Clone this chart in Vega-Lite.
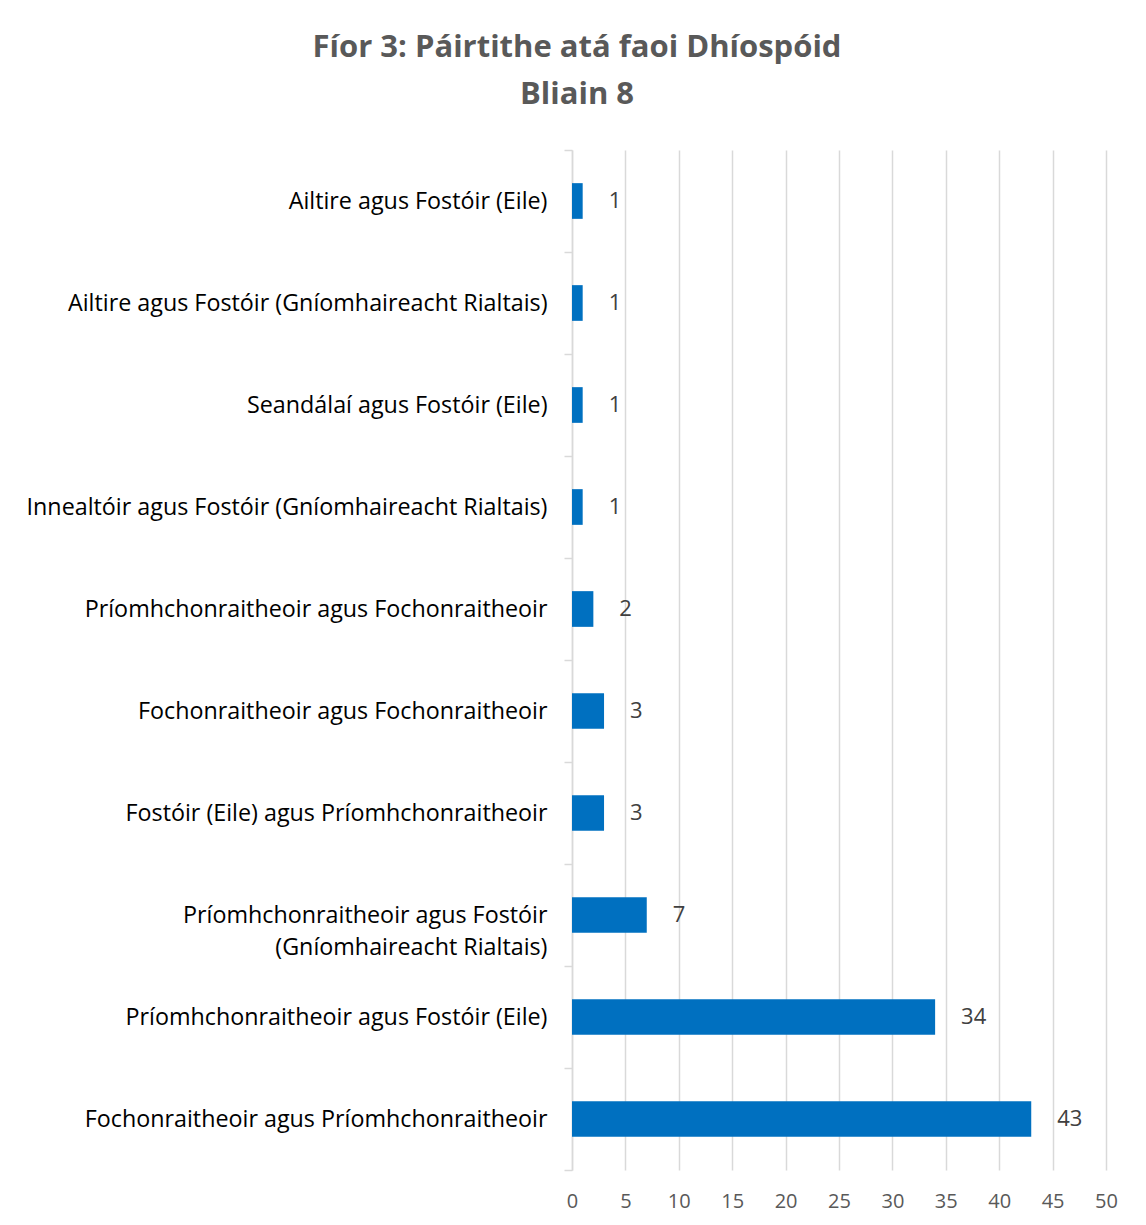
{
  "$schema": "https://vega.github.io/schema/vega-lite/v6.json",
  "autosize": {"type": "none"},
  "padding": {"left": 572, "top": 150, "right": 40, "bottom": 55},
  "width": 534,
  "height": 1020,
  "background": "white",
  "config": {
    "font": "Open Sans",
    "view": {"stroke": null}
  },
  "title": {
    "text": ["Fíor 3: Páirtithe atá faoi Dhíospóid", "Bliain 8"],
    "fontSize": 31,
    "fontWeight": "bold",
    "color": "#595959",
    "anchor": "middle",
    "dx": -262,
    "offset": 27,
    "lineHeight": 47,
    "font": "Open Sans"
  },
  "data": {
    "values": [
      {"parties": "Ailtire agus Fostóir (Eile)", "count": 1},
      {"parties": "Ailtire agus Fostóir (Gníomhaireacht Rialtais)", "count": 1},
      {"parties": "Seandálaí agus Fostóir (Eile)", "count": 1},
      {"parties": "Innealtóir agus Fostóir (Gníomhaireacht Rialtais)", "count": 1},
      {"parties": "Príomhchonraitheoir agus Fochonraitheoir", "count": 2},
      {"parties": "Fochonraitheoir agus Fochonraitheoir", "count": 3},
      {"parties": "Fostóir (Eile) agus Príomhchonraitheoir", "count": 3},
      {"parties": "Príomhchonraitheoir agus Fostóir (Gníomhaireacht Rialtais)", "count": 7},
      {"parties": "Príomhchonraitheoir agus Fostóir (Eile)", "count": 34},
      {"parties": "Fochonraitheoir agus Príomhchonraitheoir", "count": 43}
    ]
  },
  "encoding": {
    "y": {
      "field": "parties",
      "type": "nominal",
      "sort": null,
      "scale": {"paddingInner": 0, "paddingOuter": 0},
      "axis": {
        "title": null,
        "grid": false,
        "tickBand": "extent",
        "domainColor": "#d9d9d9",
        "domainWidth": 1.5,
        "tickColor": "#d9d9d9",
        "tickWidth": 1.5,
        "tickSize": 8,
        "labelPadding": 17,
        "labelFontSize": 23.3,
        "labelColor": "#000000",
        "labelLimit": 600,
        "labelLineHeight": 32,
        "labelExpr": "datum.value == 'Príomhchonraitheoir agus Fostóir (Gníomhaireacht Rialtais)' ? ['Príomhchonraitheoir agus Fostóir', '(Gníomhaireacht Rialtais)'] : datum.label"
      }
    },
    "x": {
      "field": "count",
      "type": "quantitative",
      "scale": {"domain": [0, 50], "nice": false},
      "axis": {
        "title": null,
        "values": [0, 5, 10, 15, 20, 25, 30, 35, 40, 45, 50],
        "grid": true,
        "gridColor": "#d9d9d9",
        "gridWidth": 1.5,
        "domain": false,
        "ticks": false,
        "labelFlush": false,
        "labelOverlap": false,
        "labelPadding": 21,
        "labelFontSize": 20,
        "labelColor": "#595959"
      }
    }
  },
  "layer": [
    {
      "mark": {"type": "bar", "color": "#0070C0", "height": {"band": 0.35}}
    },
    {
      "mark": {"type": "text", "align": "left", "baseline": "middle", "dx": 26, "fontSize": 22, "color": "#404040"},
      "encoding": {"text": {"field": "count", "type": "quantitative"}}
    }
  ]
}
